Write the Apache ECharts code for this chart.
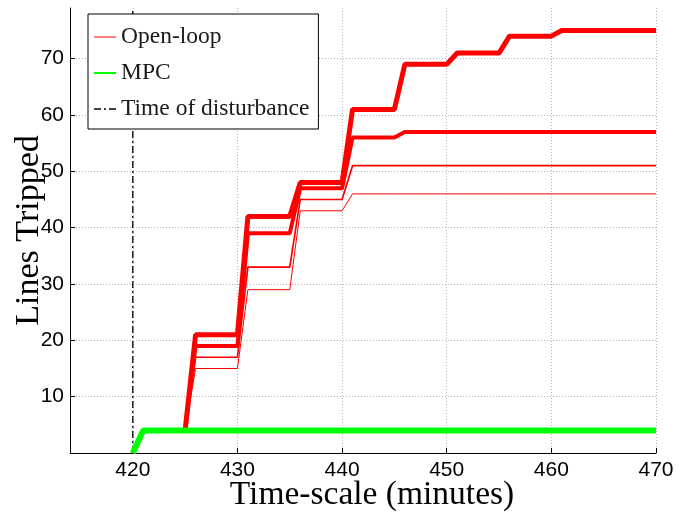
<!DOCTYPE html>
<html>
<head>
<meta charset="utf-8">
<script src="https://cdn.jsdelivr.net/npm/echarts@6/dist/echarts.min.js"></script>
<style>
  html, body { margin: 0; padding: 0; background: #fff; }
  #chart { width: 694px; height: 512px; }
</style>
</head>
<body>
<div id="chart"></div>
<script>
// minutes at which the tripped-line counts change
const times = [420, 421, 425, 426, 430, 431, 435, 436, 440, 441, 445, 446, 450, 451, 455, 456, 460, 461, 470];
const openLoopA = [0, 4, 4, 21, 21, 42, 42, 48, 48, 61, 61, 69, 69, 71, 71, 74, 74, 75, 75];
const openLoopB = [0, 4, 4, 19, 19, 39, 39, 47, 47, 56, 56, 57, 57, 57, 57, 57, 57, 57, 57];
const openLoopC = [0, 4, 4, 17, 17, 33, 33, 45, 45, 51, 51, 51, 51, 51, 51, 51, 51, 51, 51];
const openLoopD = [0, 4, 4, 15, 15, 29, 29, 43, 43, 46, 46, 46, 46, 46, 46, 46, 46, 46, 46];
const mpcTimes = [420, 421, 470];
const mpcValues = [0, 4, 4];
const disturbanceTime = 420;
const xTicks = [420, 430, 440, 450, 460, 470];
const yTicks = [10, 20, 30, 40, 50, 60, 70];

const pairs = (xs, ys) => xs.map((x, i) => [x, ys[i]]);

const chart = echarts.init(document.getElementById('chart'));

const openLoop = [
  { values: openLoopA, width: 5 },
  { values: openLoopB, width: 4 },
  { values: openLoopC, width: 1.7 },
  { values: openLoopD, width: 1 }
];

const series = openLoop.map(s => ({
  name: 'Open-loop',
  type: 'line',
  symbol: 'none',
  data: pairs(times, s.values),
  lineStyle: { color: '#ff0000', width: s.width },
  itemStyle: { color: '#ff0000' }
}));

series.push({
  name: 'Time of disturbance',
  type: 'line',
  symbol: 'none',
  data: [[disturbanceTime, 0], [disturbanceTime, 79]],
  lineStyle: { color: '#000', width: 1.3, type: [7, 3, 2, 3] },
  itemStyle: { color: '#000' }
});

series.push({
  name: 'MPC',
  type: 'line',
  symbol: 'none',
  data: pairs(mpcTimes, mpcValues),
  lineStyle: { color: '#00ff00', width: 6 },
  itemStyle: { color: '#00ff00' }
});

const option = {
  animation: false,
  backgroundColor: '#fff',
  grid: { left: 70, right: 38, top: 8, bottom: 59, containLabel: false, outerBoundsMode: 'none' },
  legend: {
    orient: 'vertical',
    left: 88,
    top: 14,
    padding: [11, 9, 8, 5],
    itemGap: 12,
    itemWidth: 22,
    itemHeight: 14,
    borderColor: '#000',
    borderWidth: 1,
    backgroundColor: '#fff',
    itemStyle: { opacity: 0 },
    textStyle: { fontFamily: 'Liberation Serif', fontSize: 23.5, color: '#1a1a1a' },
    data: [
      { name: 'Open-loop', lineStyle: { width: 1 } },
      { name: 'MPC', lineStyle: { width: 2 } },
      { name: 'Time of disturbance', lineStyle: { width: 1.3 } }
    ]
  },
  xAxis: {
    type: 'value',
    min: 414,
    max: 470,
    name: 'Time-scale (minutes)',
    nameLocation: 'middle',
    nameMoveOverlap: false,
    nameGap: 25,
    nameTextStyle: { fontFamily: 'Liberation Serif', fontSize: 33.5, color: '#000', padding: [0, 0, 0, 18] },
    axisLine: { lineStyle: { color: '#000', width: 1 } },
    axisTick: { inside: true, length: 5, customValues: xTicks, lineStyle: { color: '#000' } },
    axisLabel: { customValues: xTicks, fontFamily: 'Liberation Sans', fontSize: 21, color: '#000', margin: 7 },
    splitLine: { show: true, lineStyle: { color: '#b5b5b5', type: [1, 2], width: 1 } }
  },
  yAxis: {
    type: 'value',
    min: 0,
    max: 79,
    name: 'Lines Tripped',
    nameLocation: 'middle',
    nameMoveOverlap: false,
    nameRotate: 90,
    nameGap: 24,
    nameTextStyle: { fontFamily: 'Liberation Serif', fontSize: 34, color: '#000' },
    axisLine: { show: true, lineStyle: { color: '#000', width: 1 } },
    axisTick: { show: true, inside: true, length: 5, customValues: yTicks, lineStyle: { color: '#000' } },
    axisLabel: { customValues: yTicks, fontFamily: 'Liberation Sans', fontSize: 21, color: '#000', margin: 6 },
    splitLine: { show: true, lineStyle: { color: '#b5b5b5', type: [1, 2], width: 1 } }
  },
  series: series
};

chart.setOption(option);
</script>
</body>
</html>
